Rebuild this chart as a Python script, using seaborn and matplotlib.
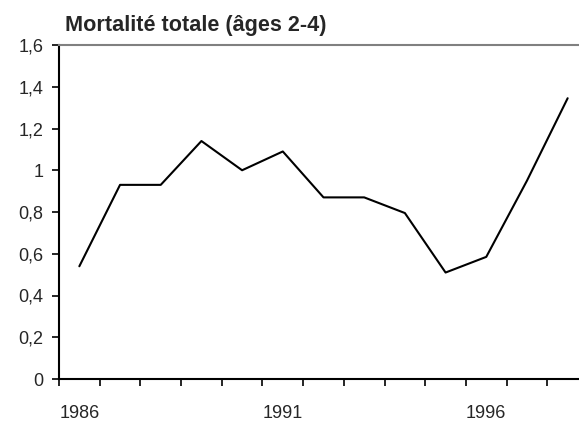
import matplotlib
matplotlib.use("Agg")
import matplotlib.pyplot as plt
from matplotlib.ticker import FixedLocator, FuncFormatter
import seaborn as sns
import pandas as pd

# données
annees = [1986, 1987, 1988, 1989, 1990, 1991, 1992, 1993, 1994, 1995, 1996, 1997, 1998]
mortalite = [0.54, 0.93, 0.93, 1.14, 1.0, 1.09, 0.87, 0.87, 0.795, 0.51, 0.585, 0.95, 1.345]
annees_etiquettes = [1986, 1991, 1996]
y_ticks = [0, 0.2, 0.4, 0.6, 0.8, 1.0, 1.2, 1.4, 1.6]

df = pd.DataFrame({"annee": annees, "mortalite": mortalite})

sns.set_style("white")
plt.rcParams['font.family'] = ['Liberation Sans', 'DejaVu Sans']

fig = plt.figure(figsize=(5.79, 4.21), dpi=100)
ax = fig.add_axes([59 / 579, 42 / 421, 529 / 579, 334 / 421])

sns.lineplot(data=df, x="annee", y="mortalite", color="black", linewidth=1.5, ax=ax)

ax.set_xlim(annees[0] - 0.5, annees[-1] + 0.5)
ax.set_ylim(0, 1.6)

# graduations entre les catégories, étiquettes au centre
ax.xaxis.set_major_locator(FixedLocator(annees_etiquettes))
ax.xaxis.set_minor_locator(FixedLocator([a - 0.5 for a in annees] + [annees[-1] + 0.5]))
ax.set_xticklabels([str(a) for a in annees_etiquettes])
ax.tick_params(axis="x", which="both", bottom=True)
ax.tick_params(axis="x", which="major", length=0, pad=19, labelsize=13)
ax.tick_params(axis="x", which="minor", length=5, width=1.2, direction="out", color="black")

ax.set_yticks(y_ticks)
ax.yaxis.set_major_formatter(FuncFormatter(lambda v, p: f"{v:g}".replace(".", ",")))
ax.tick_params(axis="y", left=True, length=5, width=1.2, direction="out", color="black",
               pad=6, labelsize=13)

ax.set_xlabel("")
ax.set_ylabel("")

for s in ["left", "bottom"]:
    ax.spines[s].set_color("black")
    ax.spines[s].set_linewidth(1.5)
ax.spines["top"].set_color("#808080")
ax.spines["top"].set_linewidth(1.5)
ax.spines["right"].set_visible(False)

fig.text(65 / 579, 1 - 31.5 / 421, "Mortalité totale (âges 2-4)", fontsize=15.6,
         fontweight="bold", ha="left", va="baseline")

fig.savefig("out.png", dpi=100)
